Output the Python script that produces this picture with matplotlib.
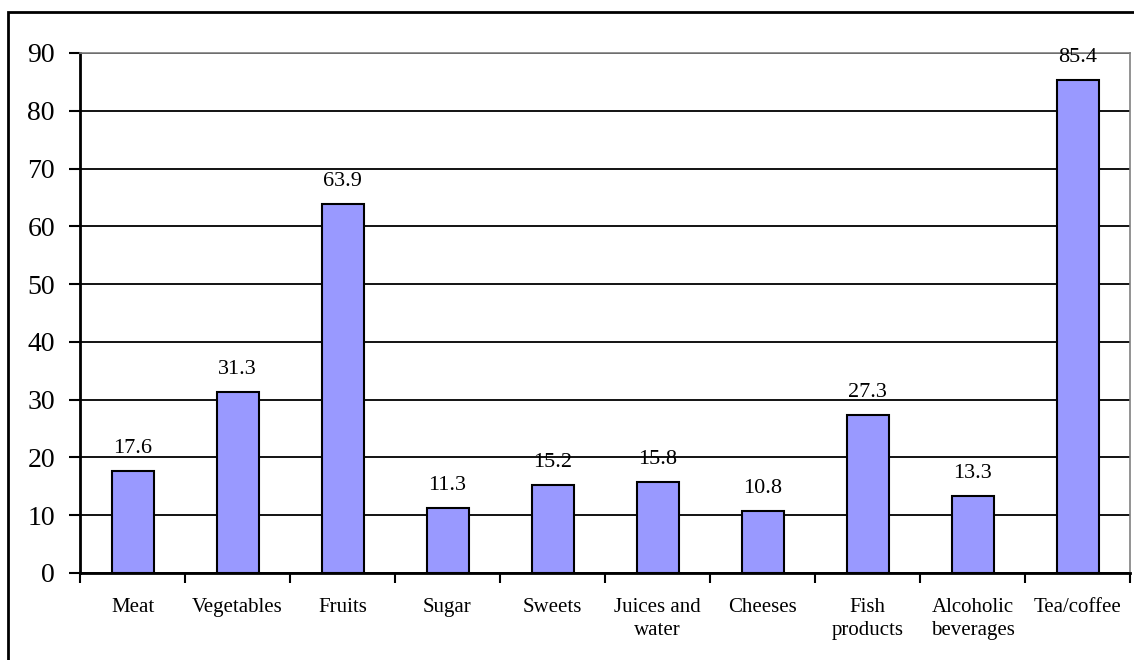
import matplotlib.pyplot as plt
import matplotlib.patches as patches
import numpy as np

# Data
categories = ["Meat", "Vegetables", "Fruits", "Sugar", "Sweets", "Juices and\nwater",
              "Cheeses", "Fish\nproducts", "Alcoholic\nbeverages", "Tea/coffee"]
values = [17.6, 31.3, 63.9, 11.3, 15.2, 15.8, 10.8, 27.3, 13.3, 85.4]
y_ticks = [0, 10, 20, 30, 40, 50, 60, 70, 80, 90]

plt.rcParams['font.family'] = ['Liberation Serif', 'DejaVu Serif']

W, H = 1134, 660
fig = plt.figure(figsize=(W / 100, H / 100), dpi=100)

# outer chart border (cropped on right and bottom)
fig.patches.append(patches.Rectangle((8 / W, -0.1), 1.2, 1.1 - 12 / H, transform=fig.transFigure,
                                     fill=False, edgecolor='black', linewidth=2))

ax = fig.add_axes([80 / W, (H - 573) / H, 1050 / W, 520 / H])

x = np.arange(len(categories))
bars = ax.bar(x, values, width=0.4, color='#9999FF', edgecolor='black', linewidth=1.5, zorder=3)

for xi, v in zip(x, values):
    ax.annotate(f"{v}", (xi, v), xytext=(0, 13), textcoords='offset points',
                ha='center', va='baseline', fontsize=16, zorder=5)

ax.set_xlim(-0.5, len(categories) - 0.5)
ax.set_ylim(0, 90)
ax.set_yticks(y_ticks)
ax.yaxis.grid(True, color='black', linewidth=1.3, zorder=1)
ax.set_axisbelow(True)

# category labels between tick marks
ax.set_xticks(np.arange(-0.5, len(categories), 1))
ax.set_xticklabels([])
ax.set_xticks(x, minor=True)
ax.set_xticklabels(categories, minor=True, fontsize=15, linespacing=1.3)
ax.tick_params(axis='x', which='minor', length=0, pad=18)
ax.tick_params(axis='x', which='major', direction='out', length=7, width=1.5)
ax.tick_params(axis='y', direction='out', length=8, width=1.5, labelsize=20, pad=10)

for side in ['left', 'bottom']:
    ax.spines[side].set_linewidth(2)
    ax.spines[side].set_color('black')
for side in ['top', 'right']:
    ax.spines[side].set_linewidth(1.2)
    ax.spines[side].set_color('#808080')

plt.savefig("out.png", dpi=100)
